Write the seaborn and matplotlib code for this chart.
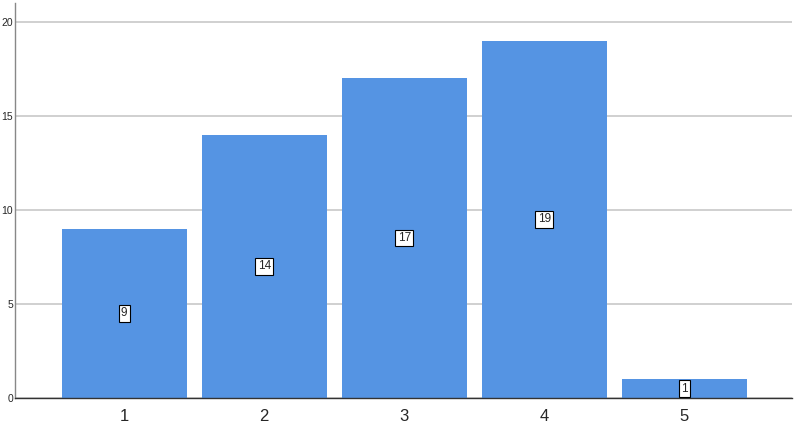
import matplotlib
matplotlib.use("Agg")
import matplotlib.pyplot as plt
import seaborn as sns
import pandas as pd

categories = ["1", "2", "3", "4", "5"]
counts = [9, 14, 17, 19, 1]

df = pd.DataFrame({"cat": categories, "count": counts})

sns.set_style("white")
plt.rcParams['font.family'] = ['Liberation Sans', 'DejaVu Sans']

fig = plt.figure(figsize=(8.07, 4.33), dpi=100)
ax = fig.add_axes([15/807, 35/433, 777/807, 395/433])

sns.barplot(data=df, x="cat", y="count", color="#5594E3", saturation=1,
            width=0.895, linewidth=0, ax=ax, zorder=2)

ax.set_ylim(0, 21)
ax.set_xlim(-0.78, 4.77)
ax.set_yticks([0, 5, 10, 15, 20])
ax.yaxis.grid(True, color="#c8c8c8", linewidth=1.2, zorder=0)
ax.set_axisbelow(True)
ax.set_xlabel("")
ax.set_ylabel("")
ax.tick_params(axis="y", length=0, pad=1.5, labelsize=7.5)
ax.tick_params(axis="x", length=0, pad=8, labelsize=12)
for s in ["top", "right"]:
    ax.spines[s].set_visible(False)
ax.spines["left"].set_color("#888888")
ax.spines["bottom"].set_color("#333333")
ax.spines["left"].set_linewidth(1)
ax.spines["bottom"].set_linewidth(1)

for i, v in enumerate(counts):
    ax.text(i, v / 2, str(v), ha="center", va="center", fontsize=8.5,
            bbox=dict(boxstyle="square,pad=0.2", facecolor="white",
                      edgecolor="black", linewidth=0.8), zorder=5)

fig.savefig("out.png", dpi=100)
